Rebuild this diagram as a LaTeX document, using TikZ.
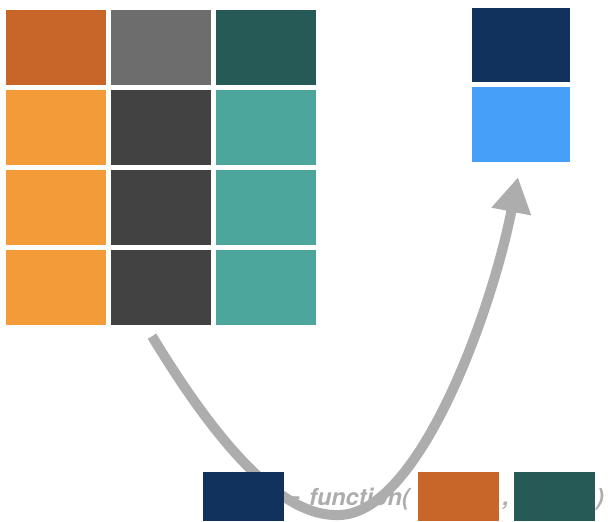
\documentclass[tikz,border=0pt]{standalone}
\usepackage{fontspec}
\setsansfont{TeX Gyre Heros}
\newfontfamily\arrowfont{DejaVu Sans}
\usetikzlibrary{arrows.meta}
\definecolor{rust}{HTML}{C8662A}
\definecolor{amber}{HTML}{F29B38}
\definecolor{midgray}{HTML}{6D6D6D}
\definecolor{darkgray}{HTML}{424242}
\definecolor{pine}{HTML}{255A57}
\definecolor{seafoam}{HTML}{4CA69B}
\definecolor{navy}{HTML}{12325E}
\definecolor{sky}{HTML}{46A0FA}
\definecolor{flowgray}{HTML}{ADADAD}
\tikzset{
  cell/.style={inner sep=0pt,minimum width=100pt,minimum height=75pt},
  chip/.style={inner sep=0pt,minimum width=81pt,minimum height=49pt},
  code/.style={text=flowgray,font=\sffamily\bfseries\itshape\fontsize{23.5}{24}\selectfont,inner sep=0pt}
}
\begin{document}
\begin{tikzpicture}[x=1pt,y=-1pt]
  \useasboundingbox (0,0) rectangle (611,522);

  %data frame: header row
  \foreach \name/\x/\c in {a/56/rust,b/161/midgray,c/266/pine}
    \node[cell,fill=\c] (\name0) at (\x,47.5) {};
  %data frame: body rows
  \foreach \y [count=\r] in {127.5,207.5,287.5} {
    \node[cell,fill=amber] (a\r) at (56,\y) {};
    \node[cell,fill=darkgray] (b\r) at (161,\y) {};
    \node[cell,fill=seafoam] (c\r) at (266,\y) {};
  }

  %result
  \node[cell,minimum width=98pt,minimum height=74pt,fill=navy] (res) at (521,45) {};
  \node[cell,minimum width=98pt,fill=sky] (out) at (521,124.5) {};

  %call
  \node[code,font=\arrowfont\bfseries\fontsize{23.5}{24}\selectfont,anchor=base east] (assign) at (301,505) {←};
  \node[code,anchor=base west] (fn) at (309,505) {function(};
  \node[code,anchor=base] (comma) at (506,505) {,};
  \node[code,anchor=base] (close) at (600,505) {)};

  %flow arrow
  \coordinate (from) at ([shift={(-9,11)}]b3.south);
  \coordinate (to) at ([shift={(-3,15)}]out.south);
  \coordinate (low) at (340,515);
  \draw[flowgray,line width=10pt,-{Triangle[width=38pt,length=35pt]}]
    (from) .. controls (215,440) and (280,518) .. (low)
    .. controls (420,512) and (492,310) .. (to);

  \node[chip,fill=navy] (lhs) at (243.5,496.5) {};
  \node[chip,fill=rust] (arg1) at (458.5,496.5) {};
  \node[chip,fill=pine] (arg2) at (554.5,496.5) {};
\end{tikzpicture}
\end{document}
